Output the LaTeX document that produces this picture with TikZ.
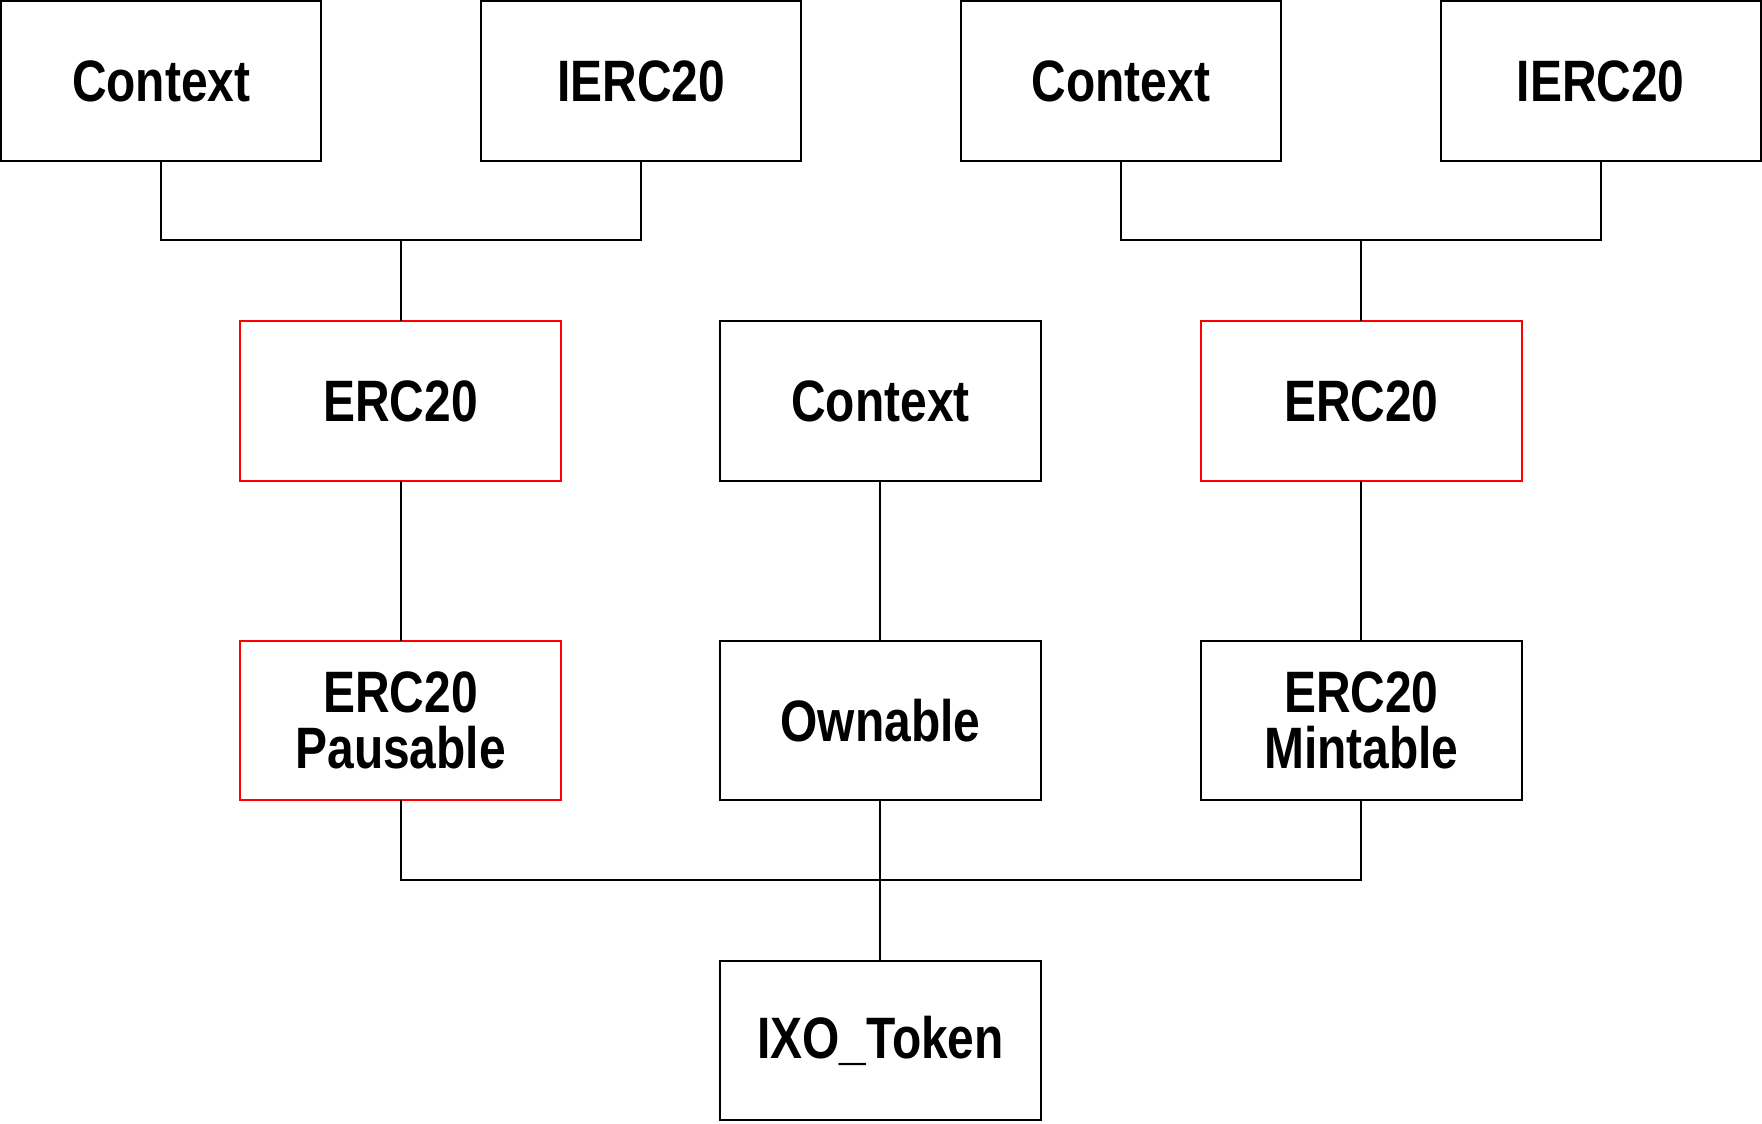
\documentclass[tikz,border=0pt]{standalone}
\usepackage{fontspec}
\newfontfamily\boxfont[FakeStretch=0.82]{Liberation Sans}
\begin{document}
\begin{tikzpicture}[x=0.5pt,y=-0.5pt,
  box/.style={draw=black,line width=0.9pt,minimum width=142.5pt,
    minimum height=71pt,inner sep=0pt,outer sep=0pt,align=center,
    font=\boxfont\bfseries\fontsize{26}{25}\selectfont},
  redbox/.style={box,draw=red}]

\useasboundingbox (0,0) rectangle (1568,1000);

\begin{scope} % top row
  \node[box] (ctxA) at (143.5,72) {Context};
  \node[box] (iercA) at (570.5,72) {IERC20};
  \node[box] (ctxB) at (997.5,72) {Context};
  \node[box] (iercB) at (1424.5,72) {IERC20};
\end{scope}

\begin{scope} % middle rows
  \node[redbox] (ercA) at (356.5,357) {ERC20};
  \node[box] (ctxC) at (783.5,357) {Context};
  \node[redbox] (ercB) at (1211.5,357) {ERC20};
  \node[redbox] (pause) at (356.5,641) {ERC20\\Pausable};
  \node[box] (own) at (783.5,641) {Ownable};
  \node[box] (mint) at (1211.5,641) {ERC20\\Mintable};
\end{scope}

\node[box] (token) at (783.5,926) {IXO\_Token};

\begin{scope}[line width=0.9pt] % connectors
  \coordinate (jA) at (356.5,214);
  \coordinate (jB) at (1211.5,214);
  \coordinate (jC) at (783.5,783);
  \draw (ctxA.south) |- (jA) -| (iercA.south);
  \draw (jA) -- (ercA.north);
  \draw (ctxB.south) |- (jB) -| (iercB.south);
  \draw (jB) -- (ercB.north);
  \draw (ercA.south) -- (pause.north);
  \draw (ctxC.south) -- (own.north);
  \draw (ercB.south) -- (mint.north);
  \draw (pause.south) |- (jC) -| (mint.south);
  \draw (own.south) -- (token.north);
\end{scope}

\end{tikzpicture}
\end{document}
